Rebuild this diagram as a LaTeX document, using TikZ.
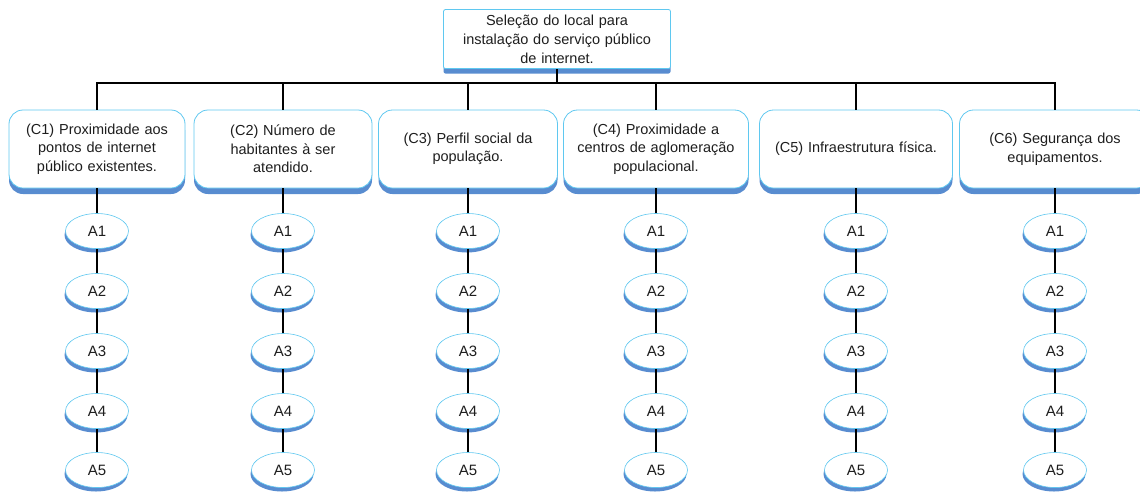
\documentclass[tikz,border=0pt]{standalone}
\usepackage{fontspec}
\setmainfont{Liberation Sans}
\usetikzlibrary{shadows,shapes.geometric}
\definecolor{shblue}{RGB}{88,140,208}
\definecolor{edgeblue}{RGB}{95,200,240}
\definecolor{txt}{RGB}{30,30,30}
\tikzset{
  topbox/.style={draw=edgeblue, line width=0.8pt, fill=white, rounded corners=2pt,
    minimum width=227pt, minimum height=59pt, inner sep=2pt,
    align=center, text width=222pt, text=txt,
    font=\fontsize{14.5pt}{19pt}\selectfont,
    drop shadow={shadow xshift=0pt, shadow yshift=-5pt, fill=shblue, opacity=1}},
  critbox/.style={draw=edgeblue, line width=0.8pt, fill=white, rounded corners=14pt,
    minimum height=78pt, inner sep=2pt,
    align=center, text=txt,
    font=\fontsize{14.5pt}{18.5pt}\selectfont,
    drop shadow={shadow xshift=0pt, shadow yshift=-6pt, fill=shblue, opacity=1}},
  alt/.style={ellipse, draw=edgeblue, line width=0.6pt, fill=white,
    minimum width=63pt, minimum height=35pt, inner sep=0pt, text=txt,
    font=\fontsize{15pt}{17pt}\selectfont,
    drop shadow={shadow xshift=-1pt, shadow yshift=-4pt, fill=shblue, opacity=1}},
  conn/.style={draw=black, line width=1.1pt}
}
\begin{document}
\begin{tikzpicture}[x=1pt,y=-1pt]
\useasboundingbox (0,0) rectangle (1140,491);
\clip (0,0) rectangle (1140,491);
\node[topbox] (top) at (557,39) {Seleção do local para\\instalação do serviço público\\de internet.};
\coordinate (hub) at (557,83);
\draw[conn] (top.south) -- (hub);

\node[critbox, minimum width=175pt, text width=172pt] (C1) at (97,149) {(C1) Proximidade aos\\pontos de internet\\público existentes.};
\node[critbox, minimum width=177pt, text width=174pt] (C2) at (283,149) {(C2) Número de\\habitantes à ser\\atendido.};
\node[critbox, minimum width=178pt, text width=175pt] (C3) at (468,149) {(C3) Perfil social da\\população.};
\node[critbox, minimum width=184pt, text width=181pt] (C4) at (656,149) {(C4) Proximidade a\\centros de aglomeração\\populacional.};
\node[critbox, minimum width=192pt, text width=189pt] (C5) at (856,149) {(C5) Infraestrutura física.};
\node[critbox, minimum width=190pt, text width=187pt] (C6) at (1055,149) {(C6) Segurança dos\\equipamentos.};

\foreach \c in {C1,C2,C3,C4,C5,C6} {
  \draw[conn] (\c.north) |- (hub);
}

\foreach \c/\x in {C1/97,C2/283,C3/468,C4/656,C5/856,C6/1055} {
  \foreach \i/\y in {1/231,2/291,3/351,4/411,5/470} {
    \node[alt] (\c A\i) at (\x,\y) {A\i};
  }
}
\foreach \c in {C1,C2,C3,C4,C5,C6} {
  \draw[conn] (\c.south) -- (\c A1.north);
  \draw[conn] (\c A1.south) -- (\c A2.north);
  \draw[conn] (\c A2.south) -- (\c A3.north);
  \draw[conn] (\c A3.south) -- (\c A4.north);
  \draw[conn] (\c A4.south) -- (\c A5.north);
}
\end{tikzpicture}
\end{document}
